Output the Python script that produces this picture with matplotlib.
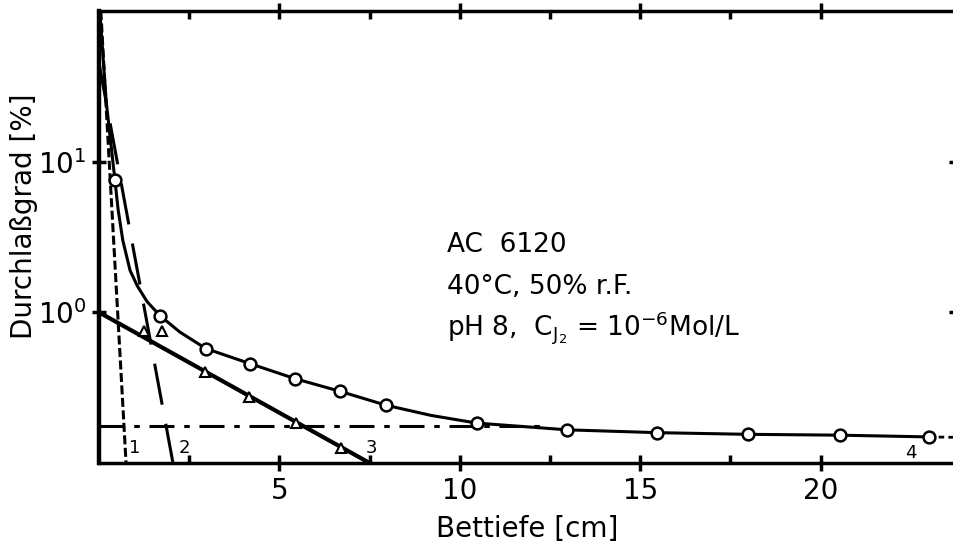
import numpy as np
import matplotlib
matplotlib.use("Agg")
import matplotlib.pyplot as plt
from matplotlib.ticker import FixedLocator, NullLocator

plt.rcParams['font.family'] = ['DejaVu Sans']
plt.rcParams['lines.scale_dashes'] = False
plt.rcParams['mathtext.default'] = 'regular'

# ---- data ----
# curve 4: measured points (open circles) and the drawn smooth curve through them
circle_x = [0.44, 1.69, 2.96, 4.18, 5.43, 6.68, 7.95, 10.47, 12.98, 15.47, 17.98, 20.53, 23.0]
circle_y = [7.6, 0.95, 0.575, 0.457, 0.363, 0.299, 0.242, 0.184, 0.166, 0.159, 0.155, 0.153, 0.149]
curve4_x = [0.03, 0.2, 0.44, 0.53, 0.66, 0.86, 1.06, 1.33, 1.69, 2.24, 2.96, 4.18, 5.43, 6.68,
            7.95, 9.2, 10.47, 12.98, 15.47, 17.98, 20.53, 23.0]
curve4_y = [95, 25, 7.6, 4.8, 3.0, 1.9, 1.5, 1.18, 0.95, 0.74, 0.575, 0.457, 0.363, 0.299,
            0.242, 0.207, 0.184, 0.166, 0.159, 0.155, 0.153, 0.149]
curve4_tail_x = [23.0, 23.75]
curve4_tail_y = [0.149, 0.148]

# curve 3: triangles and fitted straight line
tri_x = [1.25, 1.75, 2.94, 4.16, 5.46, 6.7]
tri_y = [0.747, 0.747, 0.40, 0.275, 0.185, 0.126]
line3_x = [0.0, 7.5]
line3_y = [1.0, 0.1]

# curve 1 (short dashes) and curve 2 (long dashes)
line1_x = [0.05, 0.75]
line1_y = [100, 0.1]
line2_x = [0.0, 2.05]
line2_y = [45, 0.1]

# horizontal dash-dot asymptote
hline_x = [0.0, 12.4]
hline_y = [0.175, 0.175]

xticks_major = [5, 10, 15, 20]
xticks_minor = [2.5, 7.5, 12.5, 17.5]
yticks = [1, 10]
ytick_labels = ['10$^{0}$', '10$^{1}$']

W, H = 954, 544
fig = plt.figure(figsize=(W / 100, H / 100), dpi=100)
left, right, top, bottom = 99, 956, 11, 463
ax = fig.add_axes([left / W, 1 - bottom / H, (right - left) / W, (bottom - top) / H])
ax.set_yscale('log')
ax.set_xlim(0, 23.75)
ax.set_ylim(0.1, 100)

k = 'black'
ax.plot(curve4_x, curve4_y, color=k, lw=2.2, zorder=3)
ax.plot(curve4_tail_x, curve4_tail_y, color=k, lw=2.0, ls=(0, (4, 3)), zorder=3)
ax.plot(circle_x, circle_y, ls='none', marker='o', ms=8.5, mfc='white', mec=k, mew=1.8, zorder=5)
ax.plot(line3_x, line3_y, color=k, lw=3.0, zorder=3)
ax.plot(tri_x, tri_y, ls='none', marker='^', ms=7, mfc='white', mec=k, mew=1.5, zorder=5)
ax.plot(line1_x, line1_y, color=k, lw=2.2, ls=(0, (6.5, 2.5)), zorder=2)
ax.plot(line2_x, line2_y, color=k, lw=2.2, ls=(0, (30, 14)), zorder=2)
ax.plot(hline_x, hline_y, color=k, lw=2.2, ls=(0, (18, 7, 4, 7)), zorder=2)

# spines
for s, lw in [('left', 3.2), ('bottom', 2.5), ('top', 2.5), ('right', 2.0)]:
    ax.spines[s].set_linewidth(lw)
    ax.spines[s].set_color(k)

ax.xaxis.set_major_locator(FixedLocator(xticks_major))
ax.xaxis.set_minor_locator(FixedLocator(xticks_minor))
ax.set_xticklabels([str(v) for v in xticks_major])
ax.tick_params(axis='x', which='major', direction='inout', length=12, width=2.5,
               labelsize=20, pad=4, top=True, bottom=True)
ax.tick_params(axis='x', which='minor', direction='in', length=6, width=2.5,
               top=True, bottom=True)
ax.yaxis.set_major_locator(FixedLocator(yticks))
ax.yaxis.set_minor_locator(NullLocator())
ax.set_yticklabels(ytick_labels)
ax.tick_params(axis='y', which='major', direction='inout', length=10, width=2.5,
               labelsize=20, pad=4, left=True, right=True)

ax.set_xlabel('Bettiefe [cm]', fontsize=20)
ax.xaxis.set_label_coords(0.5, -0.116)
ax.set_ylabel('Durchlaßgrad [%]', fontsize=20)
ax.yaxis.set_label_coords(-0.071, 0.545)

# annotations
tx = 447 / W
fig.text(tx, 1 - 245 / H, 'AC  6120', fontsize=19, va='center', ha='left')
fig.text(tx, 1 - 287 / H, '40°C, 50% r.F.', fontsize=19, va='center', ha='left')
fig.text(tx, 1 - 328 / H, r'pH 8,  C$_{J_2}$ = 10$^{-6}$Mol/L', fontsize=19, va='center', ha='left')

ax.text(1.0, 0.126, '1', fontsize=13, ha='center', va='center')
ax.text(2.36, 0.126, '2', fontsize=13, ha='center', va='center')
ax.text(7.55, 0.126, '3', fontsize=13, ha='center', va='center')
ax.text(22.5, 0.116, '4', fontsize=13, ha='center', va='center')

fig.savefig('out.png', dpi=100)
